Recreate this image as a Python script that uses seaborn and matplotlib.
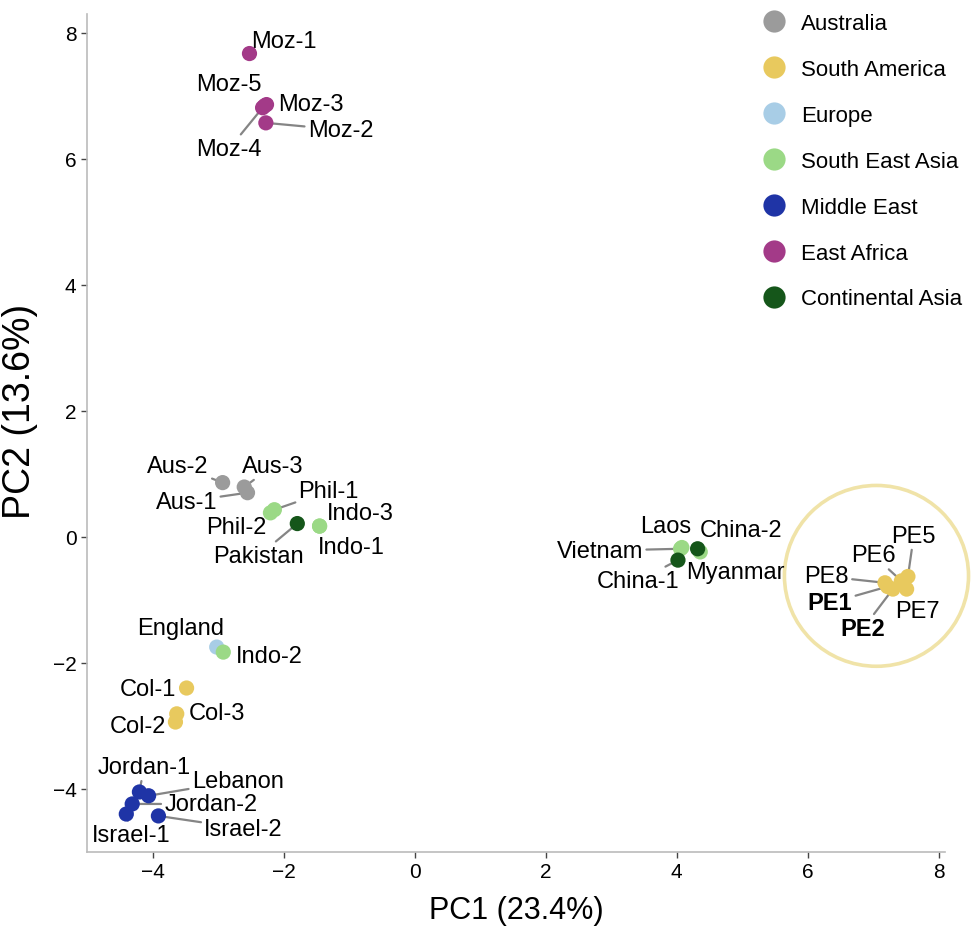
import matplotlib
matplotlib.use("Agg")
import matplotlib.pyplot as plt
from matplotlib.lines import Line2D
from matplotlib.patches import Ellipse
import numpy as np
import pandas as pd
import seaborn as sns

# sample scores
names = [
    "Moz-1", "Moz-5", "Moz-3", "Moz-4", "Moz-2",
    "Aus-2", "Aus-3", "Aus-1",
    "Phil-1", "Phil-2", "Pakistan", "Indo-3", "Indo-1",
    "Laos", "Vietnam", "Myanmar", "China-2", "China-1",
    "PE8", "PE1", "PE2", "PE6", "PE5", "PE7",
    "England", "Indo-2", "Col-1", "Col-3", "Col-2",
    "Jordan-1", "Lebanon", "Jordan-2", "Israel-1", "Israel-2",
]
pc1 = [
    -2.52, -2.29, -2.26, -2.32, -2.27,
    -2.93, -2.60, -2.55,
    -2.14, -2.20, -1.79, -1.45, -1.45,
    4.08, 4.06, 4.36, 4.32, 4.02,
    7.18, 7.22, 7.30, 7.43, 7.53, 7.51,
    -3.02, -2.92, -3.48, -3.63, -3.65,
    -4.20, -4.06, -4.31, -4.40, -3.91,
]
pc2 = [
    7.67, 6.84, 6.86, 6.81, 6.57,
    0.86, 0.79, 0.70,
    0.43, 0.38, 0.21, 0.17, 0.17,
    -0.17, -0.19, -0.24, -0.19, -0.37,
    -0.73, -0.79, -0.83, -0.70, -0.63, -0.83,
    -1.75, -1.83, -2.40, -2.81, -2.94,
    -4.05, -4.11, -4.24, -4.40, -4.43,
]
regions = (
    ["East Africa"] * 5
    + ["Australia"] * 3
    + ["South East Asia", "South East Asia", "Continental Asia", "South East Asia", "South East Asia"]
    + ["South East Asia", "South East Asia", "South East Asia", "Continental Asia", "Continental Asia"]
    + ["South America"] * 6
    + ["Europe", "South East Asia", "South America", "South America", "South America"]
    + ["Middle East"] * 5
)

region_order = ["Australia", "South America", "Europe", "South East Asia",
                "Middle East", "East Africa", "Continental Asia"]
region_colors = ["#9b9b9b", "#e8c95e", "#a8cde6", "#9bd986",
                 "#1f34a6", "#a33a88", "#15561a"]

df = pd.DataFrame({"name": names, "PC1": pc1, "PC2": pc2, "region": regions})
palette = dict(zip(region_order, region_colors))

# label placement (left edge of text, data coords) and whether a leader line is drawn
label_pos = {
    "Moz-1": (-2.49, 7.87, False), "Moz-5": (-3.33, 7.19, False),
    "Moz-3": (-2.09, 6.87, False), "Moz-2": (-1.63, 6.46, True),
    "Moz-4": (-3.33, 6.16, True),
    "Aus-2": (-4.08, 1.13, True), "Aus-3": (-2.63, 1.13, True),
    "Aus-1": (-3.95, 0.56, True),
    "Phil-1": (-1.77, 0.73, True), "Phil-2": (-3.18, 0.16, False),
    "Indo-3": (-1.34, 0.38, False), "Indo-1": (-1.48, -0.16, False),
    "Pakistan": (-3.07, -0.30, True),
    "Laos": (3.44, 0.17, False), "China-2": (4.35, 0.10, False),
    "Vietnam": (2.17, -0.22, True), "Myanmar": (4.14, -0.56, False),
    "China-1": (2.78, -0.70, True),
    "PE5": (7.28, 0.02, True), "PE6": (6.66, -0.29, True),
    "PE8": (5.95, -0.63, True), "PE1": (6.00, -1.05, True),
    "PE2": (6.50, -1.46, True), "PE7": (7.33, -1.17, False),
    "England": (-4.24, -1.44, False), "Indo-2": (-2.72, -1.89, False),
    "Col-1": (-4.50, -2.41, False), "Col-3": (-3.45, -2.79, False),
    "Col-2": (-4.66, -3.00, False),
    "Jordan-1": (-4.84, -3.65, True), "Lebanon": (-3.40, -3.87, True),
    "Jordan-2": (-3.82, -4.24, True), "Israel-1": (-4.92, -4.73, True),
    "Israel-2": (-3.21, -4.63, True),
}
bold_labels = ["PE1", "PE2"]

sns.set_style("ticks")
plt.rcParams["font.family"] = ["Liberation Sans", "DejaVu Sans"]
plt.rcParams["text.color"] = "black"
plt.rcParams["axes.labelcolor"] = "black"
plt.rcParams["xtick.color"] = "black"
plt.rcParams["ytick.color"] = "black"

fig = plt.figure(figsize=(9.72, 9.28), dpi=100)
ax = fig.add_axes([0.0895, 0.081, 0.883, 0.903])

sns.scatterplot(data=df, x="PC1", y="PC2", hue="region", palette=palette,
                s=120, linewidth=0, edgecolor="none", legend=False,
                zorder=4, ax=ax)

for _, row in df.iterrows():
    lx, ly, line = label_pos[row["name"]]
    weight = "bold" if row["name"] in bold_labels else "normal"
    arrow = dict(arrowstyle="-", color="#858585", lw=1.6,
                 shrinkA=0, shrinkB=0) if line else None
    ax.annotate(row["name"], xy=(row["PC1"], row["PC2"]), xytext=(lx, ly),
                ha="left", va="center", fontsize=17, fontweight=weight,
                arrowprops=arrow, zorder=3)

# highlight ring around the PE group
ring = Ellipse((7.05, -0.62), 2.81, 2.87, fill=False, edgecolor="#f0e3a8",
               lw=2.6, clip_on=False, zorder=2)
ax.add_patch(ring)

ax.set_xlim(-5.0, 8.1)
ax.set_ylim(-5.0, 8.3)
ax.set_xticks([-4, -2, 0, 2, 4, 6, 8])
ax.set_yticks([-4, -2, 0, 2, 4, 6, 8])
ax.tick_params(labelsize=15, length=4, width=1, color="#444444")
ax.set_xlabel("PC1 (23.4%)", fontsize=22, labelpad=10)
ax.set_ylabel("PC2 (13.6%)", fontsize=27, va="center")
ax.yaxis.set_label_coords(-0.078, 0.527)
for side in ["top", "right"]:
    ax.spines[side].set_visible(False)
for side in ["left", "bottom"]:
    ax.spines[side].set_color("#bbbbbb")
    ax.spines[side].set_linewidth(1.2)

handles = [Line2D([], [], marker="o", linestyle="", markersize=16,
                  markerfacecolor=c, markeredgecolor="none")
           for c in region_colors]
fig.legend(handles, region_order, loc="upper left",
           bbox_to_anchor=(0.767, 1.004), frameon=False, fontsize=16,
           handlelength=1.0, handletextpad=0.7, labelspacing=1.12,
           borderpad=0.3)

fig.savefig("out.png", dpi=100)
